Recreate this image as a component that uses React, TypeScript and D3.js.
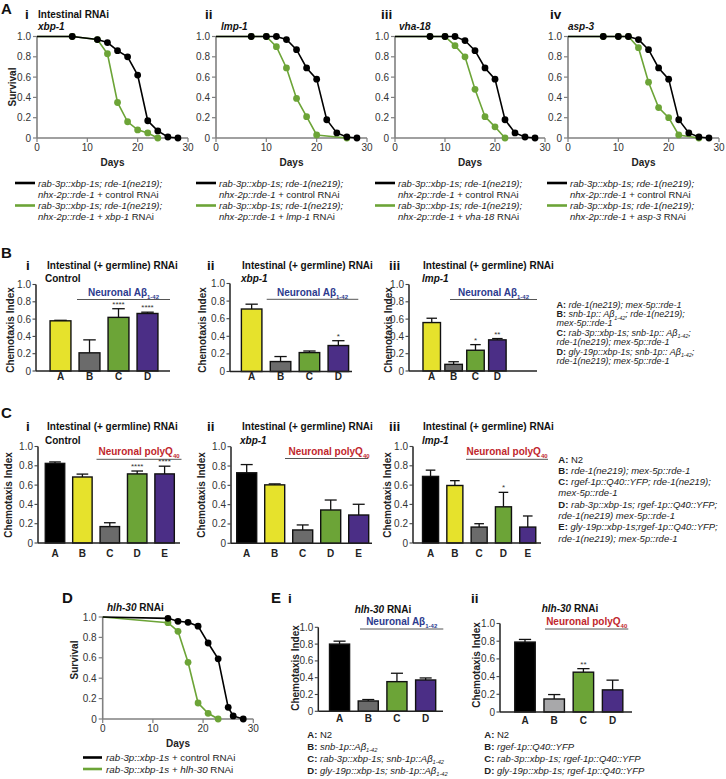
import React from 'react';
import * as d3 from 'd3';

const FONT = "'Liberation Sans', Arial, Helvetica, sans-serif";
const C_GREEN = '#6ca437';
const C_YELLOW = '#e6e22c';
const C_GRAY = '#6b6b6b';
const C_LGRAY = '#a8a8aa';
const C_PURPLE = '#4b2e86';
const C_BLACK = '#000000';
const C_BLUE = '#2d3b8e';
const C_RED = '#c1272d';
const C_AXIS = '#808080';
const C_TEXT = '#333333';

// ---------- Panel A survival data ----------
const daysAiCtrl = [0, 7, 12, 14, 16, 18, 20, 22, 24, 26, 28];
const survAiCtrl = [1, 1, 0.97, 0.94, 0.86, 0.8, 0.62, 0.17, 0.07, 0.01, 0];
const daysAiRnai = [0, 7, 12, 14, 16, 18, 20, 22, 24];
const survAiRnai = [1, 1, 0.97, 0.83, 0.35, 0.16, 0.08, 0.05, 0];

const daysAiiCtrl = [0, 7, 10, 12, 14, 16, 18, 20, 22, 24, 26, 28];
const survAiiCtrl = [1, 1, 1, 1, 0.97, 0.87, 0.69, 0.58, 0.18, 0.05, 0.01, 0];
const daysAiiRnai = [0, 7, 10, 12, 14, 16, 18, 20, 26];
const survAiiRnai = [1, 1, 1, 0.9, 0.69, 0.39, 0.21, 0.03, 0];

const daysAiiiCtrl = [0, 7, 10, 12, 14, 16, 18, 20, 22, 24, 26, 28];
const survAiiiCtrl = [1, 1, 1, 1, 0.96, 0.86, 0.69, 0.58, 0.18, 0.05, 0.01, 0];
const daysAiiiRnai = [0, 7, 10, 12, 14, 16, 18, 20, 22];
const survAiiiRnai = [1, 1, 1, 0.91, 0.8, 0.48, 0.21, 0.11, 0];

const daysAivCtrl = [0, 7, 10, 12, 14, 16, 18, 20, 22, 24, 26, 28];
const survAivCtrl = [1, 1, 1, 1, 0.97, 0.87, 0.69, 0.58, 0.18, 0.05, 0.01, 0];
const daysAivRnai = [0, 7, 10, 12, 14, 16, 18, 20, 22, 26];
const survAivRnai = [1, 1, 1, 1, 0.89, 0.55, 0.3, 0.2, 0.03, 0];

// ---------- Panel D survival data ----------
const daysDCtrl = [0, 13, 15, 17, 19, 21, 23, 25, 26, 28];
const survDCtrl = [1, 0.987, 0.958, 0.948, 0.91, 0.745, 0.59, 0.114, 0.03, 0];
const daysDRnai = [0, 13, 15, 17, 19, 21, 23];
const survDRnai = [1, 0.944, 0.86, 0.556, 0.157, 0.056, 0];

const survivalTicksY = [0, 0.2, 0.4, 0.6, 0.8, 1.0];
const survivalTicksX = [0, 10, 20, 30];
const chemoTicks = [0, 0.2, 0.4, 0.6, 0.8, 1.0];

// ---------- Bar data ----------
const catsABCD = ['A', 'B', 'C', 'D'];
const catsABCDE = ['A', 'B', 'C', 'D', 'E'];

const meanBi = [0.58, 0.21, 0.62, 0.665];
const errBi = [0.006, 0.15, 0.1, 0.015];
const starsBi = ['', '', '****', '****'];
const meanBii = [0.71, 0.113, 0.215, 0.295];
const errBii = [0.055, 0.057, 0.018, 0.055];
const starsBii = ['', '', '', '*'];
const meanBiii = [0.56, 0.077, 0.24, 0.36];
const errBiii = [0.05, 0.03, 0.065, 0.015];
const starsBiii = ['', '', '*', '**'];
const colorsB = [C_YELLOW, C_GRAY, C_GREEN, C_PURPLE];

const meanCi = [0.825, 0.684, 0.17, 0.716, 0.716];
const errCi = [0.015, 0.03, 0.04, 0.03, 0.08];
const starsCi = ['', '', '', '****', '****'];
const meanCii = [0.73, 0.605, 0.138, 0.345, 0.293];
const errCii = [0.085, 0.01, 0.052, 0.103, 0.111];
const starsCii = ['', '', '', '', ''];
const meanCiii = [0.69, 0.596, 0.165, 0.375, 0.165];
const errCiii = [0.065, 0.05, 0.035, 0.15, 0.115];
const starsCiii = ['', '', '', '*', ''];
const colorsC = [C_BLACK, C_YELLOW, C_GRAY, C_GREEN, C_PURPLE];

const meanEi = [0.8, 0.123, 0.353, 0.373];
const errEi = [0.035, 0.017, 0.1, 0.024];
const starsEi = ['', '', '', ''];
const colorsEi = [C_BLACK, C_GRAY, C_GREEN, C_PURPLE];
const meanEii = [0.79, 0.147, 0.45, 0.25];
const errEii = [0.03, 0.05, 0.04, 0.11];
const starsEii = ['', '', '**', ''];
const colorsEii = [C_BLACK, C_LGRAY, C_GREEN, C_PURPLE];

// ---------- Text ----------
type Seg = { t: string; b?: boolean; i?: boolean; sub?: boolean };

const legendACtrl: Seg[][] = [
  [{ t: 'rab-3p::xbp-1s; rde-1(ne219);', i: true }],
  [{ t: 'nhx-2p::rde-1', i: true }, { t: ' + control RNAi' }],
];
const rnaiNamesA = ['xbp-1', 'lmp-1', 'vha-18', 'asp-3'];

const legendB: Seg[][] = [
  [{ t: 'A:', b: true }, { t: ' rde-1(ne219); mex-5p::rde-1', i: true }],
  [{ t: 'B:', b: true }, { t: ' snb-1p:: Aβ', i: true }, { t: '1-42', i: true, sub: true }, { t: '; rde-1(ne219);', i: true }],
  [{ t: 'mex-5p::rde-1', i: true }],
  [{ t: 'C:', b: true }, { t: ' rab-3p::xbp-1s; snb-1p:: Aβ', i: true }, { t: '1-42', i: true, sub: true }, { t: ';', i: true }],
  [{ t: 'rde-1(ne219); mex-5p::rde-1', i: true }],
  [{ t: 'D:', b: true }, { t: ' gly-19p::xbp-1s; snb-1p:: Aβ', i: true }, { t: '1-42', i: true, sub: true }, { t: ';', i: true }],
  [{ t: 'rde-1(ne219); mex-5p::rde-1', i: true }],
];

const legendC: Seg[][] = [
  [{ t: 'A:', b: true }, { t: ' N2' }],
  [{ t: 'B:', b: true }, { t: ' rde-1(ne219); mex-5p::rde-1', i: true }],
  [{ t: 'C:', b: true }, { t: ' rgef-1p::Q40::YFP; rde-1(ne219);', i: true }],
  [{ t: 'mex-5p::rde-1', i: true }],
  [{ t: 'D:', b: true }, { t: ' rab-3p::xbp-1s; rgef-1p::Q40::YFP;', i: true }],
  [{ t: 'rde-1(ne219) mex-5p::rde-1', i: true }],
  [{ t: 'E:', b: true }, { t: ' gly-19p::xbp-1s;rgef-1p::Q40::YFP;', i: true }],
  [{ t: 'rde-1(ne219); mex-5p::rde-1', i: true }],
];

const legendEi: Seg[][] = [
  [{ t: 'A:', b: true }, { t: ' N2' }],
  [{ t: 'B:', b: true }, { t: ' snb-1p::Aβ', i: true }, { t: '1-42', i: true, sub: true }],
  [{ t: 'C:', b: true }, { t: ' rab-3p::xbp-1s; snb-1p::Aβ', i: true }, { t: '1-42', i: true, sub: true }],
  [{ t: 'D:', b: true }, { t: ' gly-19p::xbp-1s; snb-1p::Aβ', i: true }, { t: '1-42', i: true, sub: true }],
];
const legendEii: Seg[][] = [
  [{ t: 'A:', b: true }, { t: ' N2' }],
  [{ t: 'B:', b: true }, { t: ' rgef-1p::Q40::YFP', i: true }],
  [{ t: 'C:', b: true }, { t: ' rab-3p::xbp-1s; rgef-1p::Q40::YFP', i: true }],
  [{ t: 'D:', b: true }, { t: ' gly-19p::xbp-1s; rgef-1p::Q40::YFP', i: true }],
];

const neuronalAb: Seg[] = [{ t: 'Neuronal Aβ', b: true }, { t: '1-42', b: true, sub: true }];
const neuronalPQ: Seg[] = [{ t: 'Neuronal polyQ', b: true }, { t: '40', b: true, sub: true }];

function Rich(props: { x: number; y: number; segs: Seg[]; size?: number; anchor?: string; fill?: string }) {
  const { x, y, segs, size = 10, anchor = 'start', fill = '#222' } = props;
  let cur = 0;
  return (
    <text x={x} y={y} fontSize={size} textAnchor={anchor as any} fill={fill} fontFamily={FONT}>
      {segs.map((s, k) => {
        const target = s.sub ? size * 0.3 : 0;
        const dy = target - cur;
        cur = target;
        return (
          <tspan key={k} dy={dy} fontWeight={s.b ? 'bold' : 'normal'} fontStyle={s.i ? 'italic' : 'normal'} fontSize={s.sub ? size * 0.6 : size}>
            {s.t}
          </tspan>
        );
      })}
    </text>
  );
}

function Legend(props: { x: number; y: number; lines: Seg[][]; size: number; gap: number }) {
  return (
    <g>
      {props.lines.map((l, i) => (
        <Rich key={i} x={props.x} y={props.y + i * props.gap} segs={l} size={props.size} />
      ))}
    </g>
  );
}

function VLabel(props: { x: number; y: number; text: string; size?: number }) {
  const s = props.size ?? 10;
  return (
    <text transform={`translate(${props.x + s * 0.35},${props.y}) rotate(-90)`} textAnchor="middle" fontSize={s} fontWeight="bold" fontFamily={FONT} fill="#222">
      {props.text}
    </text>
  );
}

function SurvivalPlot(props: {
  x0: number; x1: number; yTop: number; yBot: number;
  ctrlDays: number[]; ctrlSurv: number[]; rnaiDays: number[]; rnaiSurv: number[];
}) {
  const { x0, x1, yTop, yBot } = props;
  const xs = d3.scaleLinear().domain([0, 30]).range([x0, x1]);
  const ys = d3.scaleLinear().domain([0, 1]).range([yBot, yTop]);
  const line = d3.line<[number, number]>().x((d) => xs(d[0])).y((d) => ys(d[1]));
  const ctrl: [number, number][] = props.ctrlDays.map((d, i) => [d, props.ctrlSurv[i]]);
  const rnai: [number, number][] = props.rnaiDays.map((d, i) => [d, props.rnaiSurv[i]]);
  const r = 3.4;
  return (
    <g>
      <line x1={x0} x2={x1} y1={yBot} y2={yBot} stroke={C_AXIS} strokeWidth={1.6} />
      <line x1={x0} x2={x0} y1={yTop} y2={yBot} stroke={C_AXIS} strokeWidth={1.6} />
      {survivalTicksY.map((t) => (
        <g key={'y' + t}>
          <line x1={x0 - 4} x2={x0} y1={ys(t)} y2={ys(t)} stroke={C_AXIS} strokeWidth={1.2} />
          <text x={x0 - 6} y={ys(t) + 3.5} textAnchor="end" fontSize={10} fontFamily={FONT} fill={C_TEXT}>
            {t === 0 ? '0' : t.toFixed(1)}
          </text>
        </g>
      ))}
      {survivalTicksX.map((t) => (
        <g key={'x' + t}>
          <line x1={xs(t)} x2={xs(t)} y1={yBot} y2={yBot + 4} stroke={C_AXIS} strokeWidth={1.2} />
          <text x={xs(t)} y={yBot + 13} textAnchor="middle" fontSize={10} fontFamily={FONT} fill={C_TEXT}>
            {t}
          </text>
        </g>
      ))}
      <text x={(x0 + x1) / 2} y={yBot + 28} textAnchor="middle" fontSize={10} fontWeight="bold" fontFamily={FONT} fill="#222">
        Days
      </text>
      <path d={line(rnai) ?? ''} fill="none" stroke={C_GREEN} strokeWidth={1.6} />
      {rnai.slice(1).map((d, i) => (
        <circle key={'g' + i} cx={xs(d[0])} cy={ys(d[1])} r={r} fill={C_GREEN} />
      ))}
      <path d={line(ctrl) ?? ''} fill="none" stroke={C_BLACK} strokeWidth={1.6} />
      {ctrl.slice(1).map((d, i) => (
        <circle key={'b' + i} cx={xs(d[0])} cy={ys(d[1])} r={r} fill={C_BLACK} />
      ))}
    </g>
  );
}

function BarPanel(props: {
  axisX: number; axisEnd: number; yTop: number; yBot: number; r0: number; r1: number; pad: number;
  cats: string[]; vals: number[]; errs: number[]; colors: string[]; stars: string[]; labelY: number;
}) {
  const { axisX, axisEnd, yTop, yBot, r0, r1, pad, cats, vals, errs, colors, stars, labelY } = props;
  const xb = d3.scaleBand().domain(cats).range([r0, r1]).paddingInner(pad).paddingOuter(pad / 2);
  const ys = d3.scaleLinear().domain([0, 1]).range([yBot, yTop]);
  const bw = xb.bandwidth();
  return (
    <g>
      {cats.map((c, i) => {
        const x = xb(c)!;
        const cx = x + bw / 2;
        const top = ys(vals[i]);
        const et = ys(vals[i] + errs[i]);
        return (
          <g key={c}>
            <line x1={cx} x2={cx} y1={top} y2={et} stroke="#111" strokeWidth={1.3} />
            <line x1={cx - bw * 0.3} x2={cx + bw * 0.3} y1={et} y2={et} stroke="#111" strokeWidth={1.3} />
            <rect x={x} y={top} width={bw} height={yBot - top} fill={colors[i]} stroke="#111" strokeWidth={1.4} />
            {stars[i] && (
              <text x={cx} y={et - 2} textAnchor="middle" fontSize={8} fontFamily={FONT} fill="#333">
                {stars[i]}
              </text>
            )}
            <text x={cx} y={labelY} textAnchor="middle" fontSize={10} fontWeight="bold" fontFamily={FONT} fill="#222">
              {c}
            </text>
          </g>
        );
      })}
      <line x1={axisX} x2={axisEnd} y1={yBot} y2={yBot} stroke="#222" strokeWidth={1.5} />
      <line x1={axisX} x2={axisX} y1={yTop} y2={yBot} stroke="#222" strokeWidth={1.5} />
      {chemoTicks.map((t) => (
        <g key={t}>
          <line x1={axisX - 3.5} x2={axisX} y1={ys(t)} y2={ys(t)} stroke="#444" strokeWidth={1.1} />
          <text x={axisX - 5} y={ys(t) + 3.5} textAnchor="end" fontSize={10} fontFamily={FONT} fill={C_TEXT}>
            {t === 0 ? '0' : t.toFixed(1)}
          </text>
        </g>
      ))}
    </g>
  );
}

function Bold(props: { x: number; y: number; text: string; size?: number; italic?: boolean; anchor?: string }) {
  return (
    <text x={props.x} y={props.y} fontSize={props.size ?? 10} fontWeight="bold" fontStyle={props.italic ? 'italic' : 'normal'} textAnchor={(props.anchor ?? 'start') as any} fontFamily={FONT} fill="#111">
      {props.text}
    </text>
  );
}

function SegLine(props: { x1: number; x2: number; y: number }) {
  return <line x1={props.x1} x2={props.x2} y1={props.y} y2={props.y} stroke="#555" strokeWidth={1} />;
}

export default function App() {
  const survA = [
    { x0: 37, x1: 188, cd: daysAiCtrl, cs: survAiCtrl, rd: daysAiRnai, rs: survAiRnai },
    { x0: 216, x1: 367, cd: daysAiiCtrl, cs: survAiiCtrl, rd: daysAiiRnai, rs: survAiiRnai },
    { x0: 395, x1: 545, cd: daysAiiiCtrl, cs: survAiiiCtrl, rd: daysAiiiRnai, rs: survAiiiRnai },
    { x0: 568, x1: 719, cd: daysAivCtrl, cs: survAivCtrl, rd: daysAivRnai, rs: survAivRnai },
  ];
  const legX = [15, 196, 375, 547];
  const romanA = [
    { r: 'i', x: 25 },
    { r: 'ii', x: 205 },
    { r: 'iii', x: 381 },
    { r: 'iv', x: 550 },
  ];
  const subA = [38, 221, 399, 568];
  return (
    <svg width={726} height={779} style={{ position: 'absolute', left: 0, top: 0, background: '#fff' }} fontFamily={FONT}>
      <rect x={0} y={0} width={726} height={779} fill="#fff" />
      {/* ---------------- Panel A ---------------- */}
      <Bold x={1} y={14} text="A" size={15} />
      {romanA.map((r) => (
        <Bold key={r.r} x={r.x} y={19} text={r.r} size={13.5} />
      ))}
      <Bold x={38} y={18} text="Intestinal RNAi" />
      {rnaiNamesA.map((n, i) => (
        <Bold key={n} x={subA[i]} y={29.5} text={n} italic />
      ))}
      <VLabel x={12} y={87} text="Survival" />
      {survA.map((p, i) => (
        <SurvivalPlot key={i} x0={p.x0} x1={p.x1} yTop={36.5} yBot={138} ctrlDays={p.cd} ctrlSurv={p.cs} rnaiDays={p.rd} rnaiSurv={p.rs} />
      ))}
      {legX.map((lx, i) => (
        <g key={i}>
          <line x1={lx} x2={lx + 20} y1={183} y2={183} stroke={C_BLACK} strokeWidth={2.6} />
          <Rich x={lx + 23} y={186.5} segs={legendACtrl[0]} size={9.5} />
          <Rich x={lx + 23} y={197.5} segs={legendACtrl[1]} size={9.5} />
          <line x1={lx} x2={lx + 20} y1={205.5} y2={205.5} stroke={C_GREEN} strokeWidth={2.6} />
          <Rich x={lx + 23} y={209} segs={legendACtrl[0]} size={9.5} />
          <Rich x={lx + 23} y={220} segs={[{ t: 'nhx-2p::rde-1', i: true }, { t: ' + ' }, { t: rnaiNamesA[i], i: true }, { t: ' RNAi' }]} size={9.5} />
        </g>
      ))}

      {/* ---------------- Panel B ---------------- */}
      <Bold x={1} y={258} text="B" size={15} />
      <Bold x={26} y={270} text="i" size={13.5} />
      <Bold x={207} y={270} text="ii" size={13.5} />
      <Bold x={389} y={270} text="iii" size={13.5} />
      <Bold x={47} y={269} text="Intestinal (+ germline) RNAi" />
      <Bold x={242} y={269} text="Intestinal (+ germline) RNAi" />
      <Bold x={423} y={269} text="Intestinal (+ germline) RNAi" />
      <Bold x={45} y={281.5} text="Control" />
      <Bold x={241} y={281.5} text="xbp-1" italic />
      <Bold x={422} y={281.5} text="lmp-1" italic />
      <VLabel x={10} y={330} text="Chemotaxis Index" />
      <VLabel x={202.5} y={330} text="Chemotaxis Index" />
      <VLabel x={388} y={330} text="Chemotaxis Index" />
      <Rich x={123.5} y={296} segs={neuronalAb} size={10} anchor="middle" fill={C_BLUE} />
      <SegLine x1={77} x2={170} y={299.5} />
      <Rich x={312.5} y={296} segs={neuronalAb} size={10} anchor="middle" fill={C_BLUE} />
      <SegLine x1={266.7} x2={358.3} y={299.3} />
      <Rich x={493.5} y={296} segs={neuronalAb} size={10} anchor="middle" fill={C_BLUE} />
      <SegLine x1={450} x2={537} y={299.5} />
      <BarPanel axisX={36} axisEnd={170} yTop={284.5} yBot={371} r0={46} r1={162} pad={0.28} cats={catsABCD} vals={meanBi} errs={errBi} colors={colorsB} stars={starsBi} labelY={380} />
      <BarPanel axisX={230} axisEnd={352} yTop={283.5} yBot={371.5} r0={237.2} r1={352.8} pad={0.29} cats={catsABCD} vals={meanBii} errs={errBii} colors={colorsB} stars={starsBii} labelY={380} />
      <BarPanel axisX={409} axisEnd={537} yTop={284.5} yBot={371} r0={420.8} r1={508.3} pad={0.2} cats={catsABCD} vals={meanBiii} errs={errBiii} colors={colorsB} stars={starsBiii} labelY={380} />
      <Legend x={556.5} y={307.5} lines={legendB} size={9} gap={9.4} />

      {/* ---------------- Panel C ---------------- */}
      <Bold x={1} y={418} text="C" size={15} />
      <Bold x={26} y={431} text="i" size={13.5} />
      <Bold x={207} y={431} text="ii" size={13.5} />
      <Bold x={389} y={431} text="iii" size={13.5} />
      <Bold x={47} y={430} text="Intestinal (+ germline) RNAi" />
      <Bold x={242} y={430} text="Intestinal (+ germline) RNAi" />
      <Bold x={423} y={430} text="Intestinal (+ germline) RNAi" />
      <Bold x={45} y={443.5} text="Control" />
      <Bold x={240} y={443.5} text="xbp-1" italic />
      <Bold x={422} y={443.5} text="lmp-1" italic />
      <VLabel x={8} y={495} text="Chemotaxis Index" />
      <VLabel x={201.7} y={495} text="Chemotaxis Index" />
      <VLabel x={387} y={495} text="Chemotaxis Index" />
      <Rich x={139} y={455} segs={neuronalPQ} size={10} anchor="middle" fill={C_RED} />
      <SegLine x1={96.5} x2={181.5} y={459.3} />
      <Rich x={329} y={455} segs={neuronalPQ} size={10} anchor="middle" fill={C_RED} />
      <SegLine x1={285} x2={368.3} y={458.5} />
      <Rich x={507} y={455} segs={neuronalPQ} size={10} anchor="middle" fill={C_RED} />
      <SegLine x1={466} x2={548} y={459.3} />
      <BarPanel axisX={38} axisEnd={180} yTop={446.5} yBot={543} r0={41.3} r1={178.3} pad={0.29} cats={catsABCDE} vals={meanCi} errs={errCi} colors={colorsC} stars={starsCi} labelY={557} />
      <BarPanel axisX={231} axisEnd={372} yTop={446.7} yBot={543.3} r0={232.7} r1={372.7} pad={0.286} cats={catsABCDE} vals={meanCii} errs={errCii} colors={colorsC} stars={starsCii} labelY={557} />
      <BarPanel axisX={413} axisEnd={541} yTop={446.5} yBot={543} r0={418.4} r1={539.9} pad={0.34} cats={catsABCDE} vals={meanCiii} errs={errCiii} colors={colorsC} stars={starsCiii} labelY={557} />
      <Legend x={558.3} y={462.5} lines={legendC} size={9.5} gap={11.3} />

      {/* ---------------- Panel D ---------------- */}
      <Bold x={62} y={603} text="D" size={15} />
      <Rich x={107} y={611} segs={[{ t: 'hlh-30', b: true, i: true }, { t: ' RNAi', b: true }]} size={10} fill="#111" />
      <VLabel x={74} y={660} text="Survival" />
      <SurvivalPlot x0={102.7} x1={253.3} yTop={617} yBot={719} ctrlDays={daysDCtrl} ctrlSurv={survDCtrl} rnaiDays={daysDRnai} rnaiSurv={survDRnai} />
      <line x1={83} x2={102} y1={757.5} y2={757.5} stroke={C_BLACK} strokeWidth={2.6} />
      <Rich x={106} y={761} segs={[{ t: 'rab-3p::xbp-1s', i: true }, { t: ' + control RNAi' }]} size={9.8} />
      <line x1={83} x2={102} y1={769} y2={769} stroke={C_GREEN} strokeWidth={2.6} />
      <Rich x={106} y={772.5} segs={[{ t: 'rab-3p::xbp-1s', i: true }, { t: ' + ' }, { t: 'hlh-30', i: true }, { t: ' RNAi' }]} size={9.8} />

      {/* ---------------- Panel E ---------------- */}
      <Bold x={271} y={603} text="E" size={15} />
      <Bold x={288} y={603} text="i" size={13.5} />
      <Bold x={471} y={603} text="ii" size={13.5} />
      <Rich x={383} y={612.5} segs={[{ t: 'hlh-30', b: true, i: true }, { t: ' RNAi', b: true }]} size={10} anchor="middle" fill="#111" />
      <Rich x={570} y={611.5} segs={[{ t: 'hlh-30', b: true, i: true }, { t: ' RNAi', b: true }]} size={10} anchor="middle" fill="#111" />
      <Rich x={401.7} y={624.5} segs={neuronalAb} size={10} anchor="middle" fill={C_BLUE} />
      <SegLine x1={360} x2={443.3} y={629} />
      <Rich x={586.7} y={624.5} segs={neuronalPQ} size={10} anchor="middle" fill={C_RED} />
      <SegLine x1={545} x2={628.3} y={629} />
      <VLabel x={295} y={668} text="Chemotaxis Index" />
      <VLabel x={476.7} y={665} text="Chemotaxis Index" />
      <BarPanel axisX={318.3} axisEnd={443} yTop={627.3} yBot={711.3} r0={325.2} r1={440} pad={0.3} cats={catsABCD} vals={meanEi} errs={errEi} colors={colorsEi} stars={starsEi} labelY={722} />
      <BarPanel axisX={500} axisEnd={632} yTop={623.5} yBot={712} r0={510.4} r1={627.2} pad={0.3} cats={catsABCD} vals={meanEii} errs={errEii} colors={colorsEii} stars={starsEii} labelY={724} />
      <Legend x={307.3} y={737.5} lines={legendEi} size={9.5} gap={12} />
      <Legend x={484.3} y={737.5} lines={legendEii} size={9.5} gap={12} />
    </svg>
  );
}
